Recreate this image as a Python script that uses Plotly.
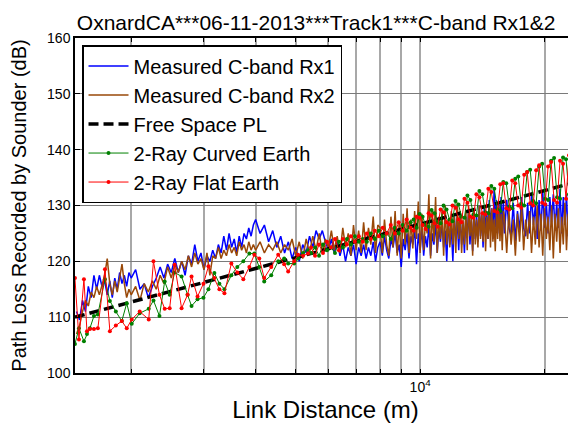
import plotly.graph_objects as go

# ---------------- data ----------------
dist_a = [1475, 1500, 1525, 1550, 1575, 1600, 1625, 1650, 1675, 1700, 1725, 1750, 1775, 1800,
          1825, 1850, 1875, 1900, 1925, 1950, 1975]
dist_b = [2000, 2050, 2100, 2150, 2200, 2250, 2300, 2350, 2400, 2450, 2500, 2550, 2600, 2650,
          2700, 2750, 2800, 2850, 2900, 2950, 3000, 3050, 3100, 3150, 3200, 3250, 3300, 3350,
          3400, 3450, 3500, 3550, 3600, 3650, 3700, 3750, 3800, 3850, 3900, 3950]
dist_c = [4000, 4100, 4200, 4300, 4400, 4500, 4600, 4700, 4800, 4900, 5000, 5100, 5200, 5300,
          5400, 5500, 5600, 5700, 5800, 5900, 6000, 6100, 6200, 6300, 6400, 6500, 6600, 6700,
          6800, 6900, 7000, 7100, 7200, 7300, 7400, 7500, 7600, 7700, 7800, 7900]
dist_d = [8000, 8100, 8200, 8300, 8400, 8500, 8600, 8700, 8800, 8900, 9000, 9100, 9200, 9300,
          9400, 9500, 9600, 9700, 9800, 9900, 10000, 10100, 10200, 10300, 10400, 10500, 10600,
          10700, 10800, 10900, 11000, 11100, 11200, 11300, 11400, 11500, 11600, 11700, 11800,
          11900, 12000, 12100, 12200, 12300, 12400, 12500, 12600, 12700, 12800, 12900, 13000,
          13100, 13200, 13300, 13400, 13500, 13600, 13700, 13800, 13900, 14000, 14100, 14200,
          14300, 14400, 14500, 14600, 14700, 14800, 14900, 15000, 15100, 15200, 15300, 15400,
          15500, 15600, 15700, 15800, 15900]
dist_e = [16000, 16200, 16400, 16600, 16800, 17000, 17200, 17400, 17600, 17800, 18000, 18200,
          18400, 18600, 18800, 19000, 19200, 19400, 19600, 19800, 20000, 20200, 20400, 20600,
          20800, 21000, 21200, 21400, 21600, 21800, 22000, 22200, 22400, 22600, 22800, 23000,
          23200, 23400, 23600, 23800, 24000]

rx1_a = [111, 109.5, 113, 111, 115.5, 113.5, 117.5, 115, 117.5, 115.5, 116.5, 114, 116.5, 113.5,
         117, 115, 118, 116, 117.5, 115.5, 118]
rx1_b = [117, 118.5, 115, 116, 113.5, 115.5, 117, 119, 117, 119.5, 118, 120.5, 118, 120, 117.5,
         121, 119.5, 123, 120, 121.5, 118.5, 121, 120, 122, 120.5, 123, 121.5, 124.5, 122, 125,
         122.5, 124, 121.5, 124.5, 122.5, 125, 124, 126, 124.5, 126.5]
rx1_c = [127.5, 125, 126.5, 123.5, 125.5, 122.5, 124.5, 121.5, 123.5, 120.5, 122.5, 120, 123,
         121.5, 124.5, 122.5, 125.5, 124, 125.5, 123.5, 122, 124, 121.5, 123.5, 121, 123, 120,
         122.5, 121, 123, 119.5, 122.5, 121, 123, 120.5, 122.5, 121, 123.5, 120, 122.5]
rx1_d = [123.5, 121, 124.5, 122, 120.5, 124, 122.5, 125, 121.5, 123,
         119, 124, 122, 125, 120.5, 124.5, 123, 126, 119.5, 125,
         122, 126, 121, 124.5, 122.5, 126.5, 121, 125, 123, 127,
         121.5, 126, 123.5, 127, 122.5, 125.5, 120, 127.5, 123, 126,
         120, 128, 124, 127, 122, 128.5, 123, 126.5, 121.5, 128,
         124.5, 129, 123, 127.5, 121.8, 129, 124, 128, 123.5, 130,
         124.5, 128.5, 122.5, 130, 125, 129, 124, 131, 125.5, 129.5,
         124, 133, 126, 131, 125, 130.5, 126.5, 131.5, 124.5, 131]
rx1_e = [125, 131, 126, 124.5, 130.5, 123.6, 129, 125.5, 131.5, 126,
         124.5, 130.5, 125, 132, 126.5, 130, 124, 131, 125.5, 132.5,
         126, 130.5, 125, 131.5, 127, 132, 125.5, 130.5, 126, 133,
         125, 131.5, 126.5, 132, 124.5, 131, 126, 133, 125.5, 131.5, 132]

rx2_a = [107, 108.5, 111, 113, 112, 114.5, 113.5, 115.5, 114, 116, 117.5, 120.5, 116, 114, 116.5,
         114.5, 117, 119.5, 116, 113.5, 115]
rx2_b = [114, 115.5, 113, 116, 114.5, 116.5, 115, 117.5, 116, 119, 117, 119.5, 118, 120, 118.5,
         121, 119, 121.5, 119.5, 120.5, 118.5, 121.5, 117.5, 121, 120.5, 122.5, 120.5, 122, 121,
         123, 121.5, 122.5, 121, 123.5, 122, 123, 121.5, 123.5, 122, 123]
rx2_c = [122, 123.5, 121.5, 123, 122, 123.5, 121.5, 123, 122, 124, 121, 123.5, 120.5, 124, 121.5,
         124.5, 122, 125, 121.5, 124, 122.5, 125.5, 122, 124.5, 121.5, 126, 122.5, 125, 121,
         126.5, 122, 125.5, 121.5, 127, 122, 126, 123, 128, 121.5, 126.5]
rx2_d = [126, 121.5, 127.5, 123, 121, 128, 122.5, 129, 121, 127,
         120.5, 128.5, 123, 129.5, 121.5, 127.5, 122.3, 129, 124, 130.7,
         121.5, 128.5, 122, 127, 125, 132, 120.5, 129, 123.5, 131.5,
         121.5, 128, 124, 129, 121, 130, 123, 127.5, 122.5, 129,
         123, 128, 121.5, 130.5, 124, 129, 121.5, 127.5, 123, 129,
         122, 130, 124.5, 128, 121, 129.5, 123, 127.5, 122.5, 130,
         124, 128.5, 123.5, 129, 121.8, 128, 124, 130, 122.5, 129.5,
         123.5, 127.5, 121.8, 129, 124, 130, 123.6, 128.5, 122, 129]
rx2_e = [128, 121.5, 129, 123, 127.5, 121, 128.5, 123.5, 130, 122,
         127.5, 124, 129, 121.5, 128, 123, 130, 122.5, 128.5, 121,
         129.5, 124, 128, 122, 130, 120.5, 128.5, 123.5, 129.5, 121.5,
         128, 123, 130.5, 122, 128.5, 121.5, 129, 124, 130, 122.5, 129]

fspl_dist = [1462, 2000, 5000, 10000, 20000, 23830]
fspl_db = [110.0, 112.7, 120.7, 126.7, 132.7, 134.2]

model_dist_left = [1462, 1495, 1537, 1563, 1589, 1625, 1661, 1728, 1776, 1836, 1898, 1951, 2006,
                   2097, 2205, 2264, 2341, 2410, 2478, 2547, 2648, 2738, 2799, 2894, 2991, 3075,
                   3179, 3269, 3362, 3494, 3612, 3735, 3862, 3971, 4082, 4196, 4363, 4536, 4689,
                   4795, 4957, 5068, 5211, 5357]
model_dist_mid = [5447, 5569, 5694, 5822, 5953, 6086, 6223, 6362, 6505, 6651, 6800, 6953, 7109,
                  7268, 7431, 7598, 7769, 7943, 8122, 8304, 8490, 8681, 8875, 9075, 9279, 9487]
model_dist_right = [9646, 9808, 9973, 10140, 10310, 10483, 10659, 10838, 11020, 11206, 11394,
                    11585, 11780, 11976, 12177, 12382, 12590, 12801, 13016, 13234, 13456, 13682,
                    13912, 14145, 14383, 14624, 14869, 15119, 15373, 15631, 15893, 16160, 16432,
                    16706, 16987, 17272, 17562, 17857, 18157, 18462, 18772, 19087, 19408, 19733,
                    20064, 20401, 20743, 21091, 21445, 21805, 22171, 22543, 22922, 23306, 23698]

flat_left = [117, 106, 116.8, 107.5, 107.9, 107.9, 108, 118.6, 107.5, 108.5, 109.3, 108, 109.6,
             111, 109.6, 120, 114, 111.5, 111.6, 119.4, 111.6, 114, 117.3, 113.7, 116, 119.1, 117,
             115, 114.3, 119.6, 118, 116.8, 119, 121.2, 120.5, 117, 119, 121.2, 119.5, 118.2, 120,
             121.2, 121, 121.4]
flat_mid = [122.5, 121, 123, 121.5, 123.5, 122.5, 124, 122, 124, 123, 124.5, 123.5, 124.5, 123.5,
            125, 124, 125.5, 124.5, 126, 125, 126.5, 125, 127, 125.5, 127.5, 126]
flat_right = [125.5, 128.0, 127.8, 126.5, 125.8, 128.6, 128.2, 126.8, 126.2, 129.3, 128.8, 127.0,
              126.6, 130.0, 129.6, 127.5, 127.0, 131.2, 130.5, 128.0, 127.8, 132.0, 131.5, 128.6,
              128.4, 133.0, 132.4, 129.0, 128.8, 133.8, 134.0, 129.5, 129.3, 134.5, 134.0, 130.0,
              129.6, 135.5, 136.0, 130.4, 130.0, 136.3, 137.2, 130.5, 130.2, 137.0, 137.8, 131.0,
              130.5, 138.0, 137.5, 131.2, 139.0, 139.3, 131.5]

curved_left = [105.2, 108, 105.7, 107, 108, 110.2, 110.5, 116.8, 112.9, 111, 109.3, 112.5, 108.8,
               110.7, 111.5, 113, 110.2, 116.4, 114, 118, 117.3, 114, 112, 113.2, 113.5, 115,
               117.9, 116, 115, 117.5, 119, 120, 121.4, 121.4, 119, 116.4, 117.5, 120, 120.5,
               119.6, 119.6, 120.5, 121.5, 122]
curved_mid = [121.5, 122.5, 121, 123, 122, 122.5, 121.5, 123.5, 122.5, 124, 123, 124.5, 123.5,
              124, 123.5, 125, 124, 125.5, 124.5, 125, 124, 126, 125, 126.5, 125.5, 127]
curved_right = [127.5, 126.0, 128.5, 128.0, 126.5, 126.2, 129.2, 128.6, 127.0, 126.8, 130.0, 129.3,
                127.5, 127.2, 130.8, 130.2, 128.0, 127.8, 131.8, 131.0, 128.4, 128.2, 132.6,
                132.0, 128.8, 128.6, 133.5, 133.0, 129.3, 129.0, 134.2, 134.0, 129.8, 129.5,
                134.8, 135.2, 130.3, 130.0, 136.0, 136.4, 130.8, 130.4, 137.0, 137.5, 131.2,
                131.0, 138.0, 138.5, 131.5, 131.2, 138.6, 138.3, 132.0, 131.8, 139.0]

x_major_ticks = [10000]
x_major_text = ["10<sup>4</sup>"]
x_minor_ticks = [2000, 3000, 4000, 5000, 6000, 7000, 8000, 9000, 20000]
y_tick_vals = [100, 110, 120, 130, 140, 150, 160]

# ---------------- figure ----------------
meas_dist = dist_a + dist_b + dist_c + dist_d + dist_e
rx1 = rx1_a + rx1_b + rx1_c + rx1_d + rx1_e
rx2 = rx2_a + rx2_b + rx2_c + rx2_d + rx2_e
model_dist = model_dist_left + model_dist_mid + model_dist_right
flat = flat_left + flat_mid + flat_right
curved = curved_left + curved_mid + curved_right

FONT = "Liberation Sans, Arial, sans-serif"
GRID_X = "#a8a8a8"

fig = go.Figure()
fig.add_trace(go.Scatter(x=meas_dist, y=rx1, mode="lines", name="Measured C-band Rx1",
                         line=dict(color="#0000ff", width=1.5)))
fig.add_trace(go.Scatter(x=meas_dist, y=rx2, mode="lines", name="Measured C-band Rx2",
                         line=dict(color="#994808", width=1.5)))
fig.add_trace(go.Scatter(x=fspl_dist, y=fspl_db, mode="lines", name="Free Space PL",
                         line=dict(color="black", width=3.5, dash="10px,5px")))
fig.add_trace(go.Scatter(x=model_dist, y=curved, mode="lines+markers", name="2-Ray Curved Earth",
                         line=dict(color="#008000", width=1), marker=dict(size=4, color="#008000")))
fig.add_trace(go.Scatter(x=model_dist, y=flat, mode="lines+markers", name="2-Ray Flat Earth",
                         line=dict(color="#ff0000", width=1), marker=dict(size=4, color="#ff0000")))

# the page body adds an 8 px offset, so margins are set 8 px smaller on the left/top
fig.update_layout(
    width=576, height=430,
    margin=dict(l=65, r=8, t=30, b=65),
    paper_bgcolor="white", plot_bgcolor="white",
    font=dict(family=FONT, color="black"),
    title=dict(text="OxnardCA***06-11-2013***Track1***C-band Rx1&2",
               x=0.535, xanchor="center", xref="container", y=0.967, yanchor="middle",
               yref="container", font=dict(size=21, family=FONT)),
    showlegend=True,
    legend=dict(x=0.014, y=0.979, xanchor="left", yanchor="top",
                bgcolor="white", bordercolor="black", borderwidth=1.5,
                font=dict(size=20, family=FONT), tracegroupgap=0,
                itemwidth=40),
)
fig.update_xaxes(
    type="log", range=[3.16506, 4.37712],
    tickmode="array", tickvals=x_major_ticks, ticktext=x_major_text,
    ticks="inside", ticklen=4, tickcolor="black", tickwidth=1,
    showgrid=True, gridcolor=GRID_X, gridwidth=1.5,
    minor=dict(tickmode="array", tickvals=x_minor_ticks, ticks="inside", ticklen=4,
               tickcolor="black", showgrid=True, gridcolor=GRID_X, gridwidth=1.5),
    showline=True, linecolor="black", linewidth=1.5, mirror="ticks",
    zeroline=False, tickfont=dict(size=14),
    title=dict(text="Link Distance (m)", font=dict(size=24), standoff=8),
)
fig.update_yaxes(
    range=[100, 160], tickvals=y_tick_vals,
    ticks="inside", ticklen=5, tickcolor="black", tickwidth=1,
    showgrid=True, gridcolor="#7a7a7a", gridwidth=1,
    showline=True, linecolor="black", linewidth=1.5, mirror=False,
    zeroline=False, tickfont=dict(size=14),
    title=dict(text="Path Loss Recorded by Sounder (dB)", font=dict(size=20), standoff=17),
)

fig.write_html("out.html")
